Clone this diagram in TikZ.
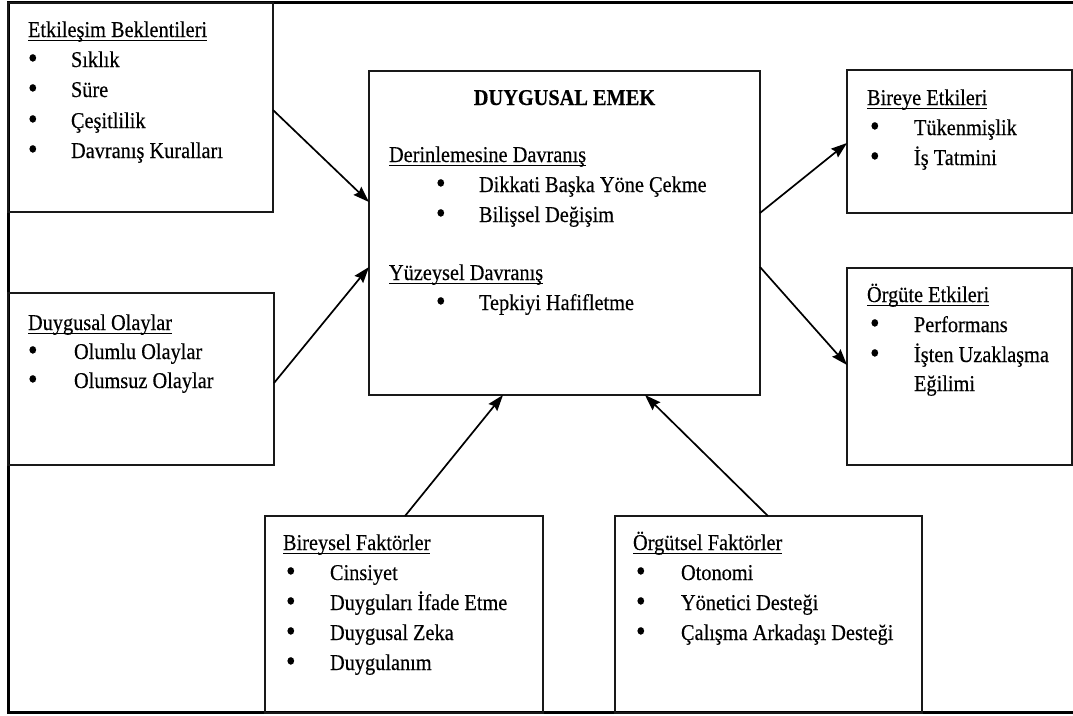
\documentclass[tikz,border=0pt]{standalone}
\usepackage{fontspec}
\setmainfont{Liberation Serif}[FakeStretch=0.9,FakeBold=0.3]
\usetikzlibrary{arrows.meta}
\newcommand\ulin[1]{\setbox0\hbox{#1}\rlap{\rule[-4pt]{\wd0}{1pt}}\box0}
\newcommand\bul[1]{\makebox[#1pt][l]{\raisebox{-1pt}{\scalebox{1.35}{•}}}}
\tikzset{
  box/.style={draw=black!90, line width=1.4pt, inner sep=0pt, outer sep=0pt, anchor=north west},
  txt/.style={anchor=base west, inner sep=0pt, outer sep=0pt},
  arr/.style={line width=1.7pt, -{Stealth[length=16pt,width=11pt,inset=2pt]}},
}
\begin{document}
\begin{tikzpicture}[x=1pt,y=-1pt,font=\fontsize{22.6}{30}\selectfont]
\useasboundingbox[fill=white] (0,0) rectangle (1073,715);
% outer frame
\draw[line width=3pt] (1073,2) -- (8,2) -- (8,712) -- (1073,712);
% boxes
\node[box, minimum width=265pt, minimum height=209pt] (etk) at (8,3) {};
\node[box, minimum width=266pt, minimum height=172pt] (dol) at (8,293) {};
\node[box, minimum width=391pt, minimum height=324pt] (emek) at (369,71) {};
\node[box, minimum width=225pt, minimum height=143pt] (bir) at (847,70) {};
\node[box, minimum width=225pt, minimum height=197pt] (org) at (847,268) {};
\node[box, minimum width=278pt, minimum height=197pt] (bf) at (265,516) {};
\node[box, minimum width=307pt, minimum height=197pt] (of) at (615,516) {};
% Etkilesim Beklentileri
\node[txt] (etk-t) at (28,37) {\ulin{Etkileşim Beklentileri}};
\node[txt] (etk-1) at (28,67) {\bul{43}Sıklık};
\node[txt] (etk-2) at (28,97) {\bul{43}Süre};
\node[txt] (etk-3) at (28,128) {\bul{43}Çeşitlilik};
\node[txt] (etk-4) at (28,158) {\bul{43}Davranış Kuralları};
% Duygusal Olaylar
\node[txt] (dol-t) at (28,330) {\ulin{Duygusal Olaylar}};
\node[txt] (dol-1) at (28,359) {\bul{46}Olumlu Olaylar};
\node[txt] (dol-2) at (28,388) {\bul{46}Olumsuz Olaylar};
% Duygusal Emek
\node[anchor=base, inner sep=0pt] (emek-t) at (564.5,105) {\bfseries DUYGUSAL EMEK};
\node[txt] (emek-s1) at (389,162) {\ulin{Derinlemesine Davranış}};
\node[txt] (emek-1) at (436,192) {\bul{43}Dikkati Başka Yöne Çekme};
\node[txt] (emek-2) at (436,222) {\bul{43}Bilişsel Değişim};
\node[txt] (emek-s2) at (389,280) {\ulin{Yüzeysel Davranış}};
\node[txt] (emek-3) at (436,310) {\bul{43}Tepkiyi Hafifletme};
% Bireye Etkileri
\node[txt] (bir-t) at (867,105) {\ulin{Bireye Etkileri}};
\node[txt] (bir-1) at (870,135) {\bul{44}Tükenmişlik};
\node[txt] (bir-2) at (870,165) {\bul{44}İş Tatmini};
% Orgute Etkileri
\node[txt] (org-t) at (867,302) {\ulin{Örgüte Etkileri}};
\node[txt] (org-1) at (870,332) {\bul{44}Performans};
\node[txt] (org-2) at (870,362) {\bul{44}İşten Uzaklaşma};
\node[txt] (org-3) at (914,391) {Eğilimi};
% Bireysel Faktorler
\node[txt] (bf-t) at (283,550) {\ulin{Bireysel Faktörler}};
\node[txt] (bf-1) at (286,580) {\bul{44}Cinsiyet};
\node[txt] (bf-2) at (286,610) {\bul{44}Duyguları İfade Etme};
\node[txt] (bf-3) at (286,640) {\bul{44}Duygusal Zeka};
\node[txt] (bf-4) at (286,670) {\bul{44}Duygulanım};
% Orgutsel Faktorler
\node[txt] (of-t) at (633,550) {\ulin{Örgütsel Faktörler}};
\node[txt] (of-1) at (636,580) {\bul{45}Otonomi};
\node[txt] (of-2) at (636,610) {\bul{45}Yönetici Desteği};
\node[txt] (of-3) at (636,640) {\bul{45}Çalışma Arkadaşı Desteği};
% arrows
\draw[arr] ([yshift=-107pt]etk.north east) -- ([yshift=-131pt]emek.north west);
\draw[arr] ([yshift=-90pt]dol.north east) -- ([yshift=-196pt]emek.north west);
\draw[arr] ([yshift=-142pt]emek.north east) -- ([yshift=-73pt]bir.north west);
\draw[arr] ([yshift=-196pt]emek.north east) -- ([yshift=-97pt]org.north west);
\draw[arr] ([xshift=140pt]bf.north west) -- ([xshift=134pt]emek.south west);
\draw[arr] ([xshift=153pt]of.north west) -- ([xshift=276pt]emek.south west);
\end{tikzpicture}
\end{document}
